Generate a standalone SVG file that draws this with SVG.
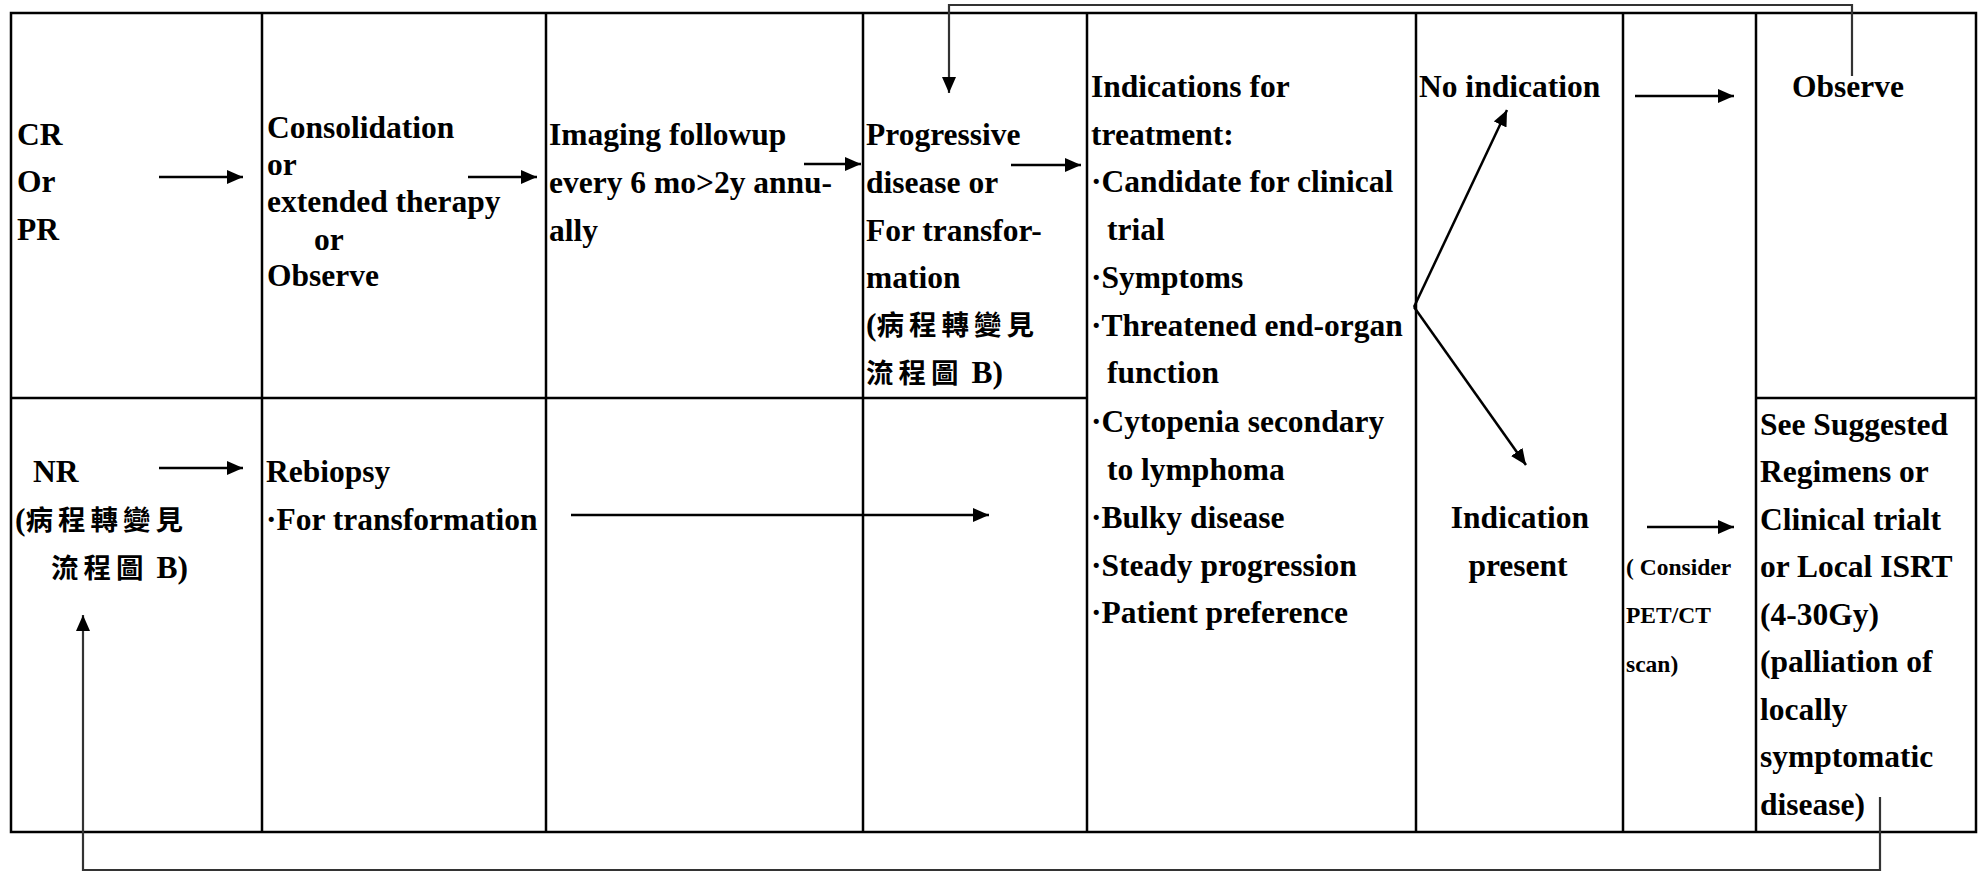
<svg xmlns="http://www.w3.org/2000/svg" width="1982" height="872" viewBox="0 0 1982 872">
<style>
  .grid { stroke: #000; stroke-width: 2.5; fill: none; }
  .t { font-family: "Liberation Serif", "Times New Roman", "Noto Sans CJK TC", serif; font-weight: bold; font-size: 31.5px; fill: #000; }
  .s { font-size: 23.5px; }
  .cjk { font-family: "Noto Sans CJK TC", "Liberation Serif", sans-serif; font-size: 27.5px; letter-spacing: 5px; }
  .arr { stroke: #000; stroke-width: 2.5; fill: none; marker-end: url(#ah); }
  .fb { stroke: #333; stroke-width: 2.2; fill: none; marker-end: url(#ah); }
</style>
<defs>
  <marker id="ah" markerUnits="userSpaceOnUse" markerWidth="17" markerHeight="14" refX="16" refY="7" orient="auto">
    <path d="M0,0 L16,7 L0,14 z" fill="#000"/>
  </marker>
</defs>
<rect width="1982" height="872" fill="#fff"/>
<g id="table" class="grid">
  <rect x="11" y="13" width="1965" height="819"/>
  <line x1="262" y1="13" x2="262" y2="832"/>
  <line x1="546" y1="13" x2="546" y2="832"/>
  <line x1="863" y1="13" x2="863" y2="832"/>
  <line x1="1087" y1="13" x2="1087" y2="832"/>
  <line x1="1416" y1="13" x2="1416" y2="832"/>
  <line x1="1623" y1="13" x2="1623" y2="832"/>
  <line x1="1756" y1="13" x2="1756" y2="832"/>
  <line x1="11" y1="398" x2="1087" y2="398"/>
  <line x1="1756" y1="398" x2="1976" y2="398"/>
</g>
<g id="node-cr">
  <text class="t"><tspan x="17" y="145">CR</tspan><tspan x="17" y="192">Or</tspan><tspan x="17" y="240">PR</tspan></text>
</g>
<g id="node-consolidation">
  <text class="t"><tspan x="267" y="138">Consolidation</tspan><tspan x="267" y="175">or</tspan><tspan x="267" y="212">extended therapy</tspan><tspan x="314" y="250">or</tspan><tspan x="267" y="286">Observe</tspan></text>
</g>
<g id="node-imaging">
  <text class="t"><tspan x="549" y="145">Imaging followup</tspan><tspan x="549" y="193">every 6 mo&gt;2y annu-</tspan><tspan x="549" y="241">ally</tspan></text>
</g>
<g id="node-progressive">
  <text class="t"><tspan x="866" y="145">Progressive</tspan><tspan x="866" y="193">disease or</tspan><tspan x="866" y="241">For transfor-</tspan><tspan x="866" y="288">mation</tspan><tspan x="866" y="335">(<tspan class="cjk">病程轉變見</tspan></tspan><tspan x="866" y="383"><tspan class="cjk">流程圖</tspan> B)</tspan></text>
</g>
<g id="node-nr">
  <text class="t"><tspan x="33" y="482">NR</tspan><tspan x="15" y="530">(<tspan class="cjk">病程轉變見</tspan></tspan><tspan x="51" y="578"><tspan class="cjk">流程圖</tspan> B)</tspan></text>
</g>
<g id="node-rebiopsy">
  <text class="t"><tspan x="266" y="482">Rebiopsy</tspan><tspan x="266" y="530">·For transformation</tspan></text>
</g>
<g id="node-indications">
  <text class="t">
    <tspan x="1091" y="97">Indications for</tspan>
    <tspan x="1091" y="145">treatment:</tspan>
    <tspan x="1091" y="192">·Candidate for clinical</tspan>
    <tspan x="1107" y="240">trial</tspan>
    <tspan x="1091" y="288">·Symptoms</tspan>
    <tspan x="1091" y="336">·Threatened end-organ</tspan>
    <tspan x="1107" y="383">function</tspan>
    <tspan x="1091" y="432">·Cytopenia secondary</tspan>
    <tspan x="1107" y="480">to lymphoma</tspan>
    <tspan x="1091" y="528">·Bulky disease</tspan>
    <tspan x="1091" y="576">·Steady progression</tspan>
    <tspan x="1091" y="623">·Patient preference</tspan>
  </text>
</g>
<g id="node-no-indication">
  <text class="t" x="1419" y="97">No indication</text>
</g>
<g id="node-indication-present">
  <text class="t" text-anchor="middle"><tspan x="1520" y="528">Indication</tspan><tspan x="1518" y="576">present</tspan></text>
</g>
<g id="node-consider">
  <text class="t s"><tspan x="1626" y="575">( Consider</tspan><tspan x="1626" y="623">PET/CT</tspan><tspan x="1626" y="672">scan)</tspan></text>
</g>
<g id="node-observe">
  <text class="t" x="1792" y="97">Observe</text>
</g>
<g id="node-regimens">
  <text class="t">
    <tspan x="1760" y="435">See Suggested</tspan>
    <tspan x="1760" y="482">Regimens or</tspan>
    <tspan x="1760" y="530">Clinical trialt</tspan>
    <tspan x="1760" y="577">or Local ISRT</tspan>
    <tspan x="1760" y="625">(4-30Gy)</tspan>
    <tspan x="1760" y="672">(palliation of</tspan>
    <tspan x="1760" y="720">locally</tspan>
    <tspan x="1760" y="767">symptomatic</tspan>
    <tspan x="1760" y="815">disease)</tspan>
  </text>
</g>
<g id="connectors">
  <line class="arr" x1="159" y1="177" x2="243" y2="177"/>
  <line class="arr" x1="468" y1="177" x2="537" y2="177"/>
  <line class="arr" x1="804" y1="164" x2="861" y2="164"/>
  <line class="arr" x1="1011" y1="165" x2="1081" y2="165"/>
  <line class="arr" x1="1635" y1="96" x2="1734" y2="96"/>
  <line class="arr" x1="159" y1="468" x2="243" y2="468"/>
  <line class="arr" x1="571" y1="515" x2="989" y2="515"/>
  <line class="arr" x1="1647" y1="527" x2="1734" y2="527"/>
  <line class="arr" x1="1414" y1="307" x2="1507" y2="110"/>
  <line class="arr" x1="1414" y1="307" x2="1526" y2="465"/>
  <path class="fb" d="M1852,76 V5 H949 V93"/>
  <path class="fb" d="M1880,797 V870 H83 V615"/>
</g>
</svg>
